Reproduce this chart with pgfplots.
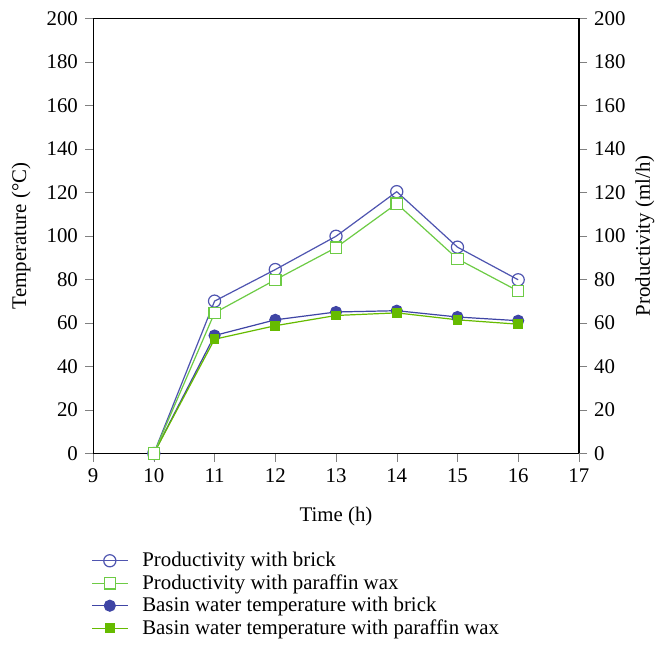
\documentclass[border=0pt]{standalone}
\usepackage{fontspec}
\setmainfont{Liberation Serif}
\usepackage{pgfplots}
\pgfplotsset{compat=1.18}
\definecolor{pblue}{HTML}{4F55B0}
\definecolor{pgreen}{HTML}{6DCB45}
\definecolor{bblue}{HTML}{3F45A5}
\definecolor{bgreen}{HTML}{66BB00}
\begin{document}
\begin{tikzpicture}
\pgfplotsset{
  common/.style={
    scale only axis, width=240pt, height=215pt,
    xmin=9, xmax=17, ymin=0, ymax=200,
    ytick={0,20,...,200}, tick align=outside,
    major tick length=4pt,
    /pgf/number format/assume math mode=true,
    tick label style={font=\fontsize{10.3}{12}\selectfont},
    label style={font=\fontsize{10.3}{12}\selectfont},
    axis line style={line width=0.6pt},
  }
}
\begin{axis}[common,
  xtick={9,...,17},
  xtick pos=bottom, ytick pos=left,
  xlabel={Time (h)}, ylabel={Temperature (°C)},
  xlabel style={yshift=-5pt},
  ylabel style={yshift=1pt},
  legend cell align=left,
  legend style={at={(rel axis cs:0,0)}, anchor=north west, yshift=-44.5pt, xshift=-4pt,
    draw=none, font=\fontsize{10.3}{12}\selectfont, row sep=-1.6pt,
    /tikz/every even column/.append style={column sep=0pt}},
  legend image code/.code={\draw[#1] (0pt,0pt) -- (17.5pt,0pt); \draw[#1, only marks] plot coordinates {(8.75pt,0pt)};},
]
\addlegendimage{pblue, line width=0.6pt, mark=o, mark size=3pt, mark options={fill=white, line width=0.6pt}}
\addlegendentry{\hspace{5pt}Productivity with brick}
\addlegendimage{pgreen, line width=0.6pt, mark=square*, mark size=2.8pt, mark options={fill=white, line width=0.6pt}}
\addlegendentry{\hspace{5pt}Productivity with paraffin wax}
\addlegendimage{bblue, line width=0.6pt, mark=*, mark size=2.7pt}
\addlegendentry{\hspace{5pt}Basin water temperature with brick}
\addlegendimage{bgreen, line width=0.6pt, mark=square*, mark size=2.1pt}
\addlegendentry{\hspace{5pt}Basin water temperature with paraffin wax}
\addplot[forget plot, bblue, line width=0.6pt, mark=*, mark size=2.7pt]
 coordinates {(10,0) (11,54.2) (12,61.4) (13,65) (14,65.6) (15,62.7) (16,61)};
\addplot[forget plot, bgreen, line width=0.6pt, mark=square*, mark size=2.1pt]
 coordinates {(10,0) (11,52.5) (12,58.7) (13,63.4) (14,64.6) (15,61.4) (16,59.4)};
\addplot[forget plot, pblue, line width=0.6pt, mark=o, mark size=3pt, mark options={fill=white, line width=0.6pt}]
 coordinates {(10,0) (11,70) (12,84.5) (13,99.8) (14,120.3) (15,94.8) (16,79.8)};
\addplot[forget plot, pgreen, line width=0.6pt, mark=square*, mark size=2.8pt, mark options={fill=white, line width=0.6pt}]
 coordinates {(10,0) (11,64.6) (12,79.8) (13,94.6) (14,114.8) (15,89.4) (16,74.6)};
\path (rel axis cs:0,1) ++(-46pt,9pt) coordinate (tl);
\end{axis}
\begin{axis}[common,
  hide x axis, axis y line*=right,
  ylabel={Productivity (ml/h)},
  ylabel style={yshift=2pt},
]
\end{axis}
\path (tl) -- ++(0,0);
\end{tikzpicture}
\end{document}
